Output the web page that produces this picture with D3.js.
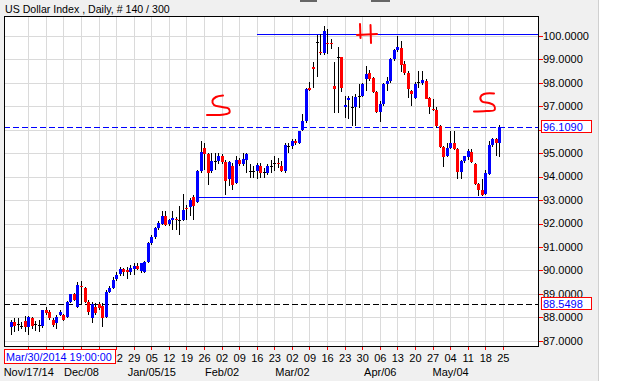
<!DOCTYPE html>
<html lang="en">
<head>
<meta charset="UTF-8">
<title>US Dollar Index</title>
<script src="https://cdn.jsdelivr.net/npm/d3@7"></script>
<style>
    body { margin: 0; background: #f0f0f0; }
    svg { display: block; font-family: "Liberation Sans", Arial, sans-serif; }
</style>
</head>
<body>
<svg id="main_svg" width="622" height="381"></svg>
<script>
    // daily bars, first bar Mon Nov/10/2014, weekdays only
    var startDate = "2014-11-10";
    var opens = [87.60, 87.81, 87.70, 87.64, 87.85, 87.60, 87.95, 87.70, 87.66, 87.62,
        88.31, 88.21, 87.88, 87.74, 88.09, 88.09, 88.00, 88.67, 88.98, 88.45,
        89.35, 89.24, 88.67, 87.98, 88.45, 88.55, 88.50, 88.02, 89.10, 89.26,
        89.64, 89.84, 90.06, 90.02, 89.92, 90.05, 90.20, 89.98, 89.95, 90.36,
        91.19, 91.42, 91.80, 91.99, 92.33, 91.98, 92.13, 92.20, 92.15, 92.16,
        92.70, 92.70, 93.13, 92.90, 94.23, 95.23, 94.95, 94.23, 94.66, 94.66,
        94.88, 94.62, 93.88, 94.45, 93.73, 94.73, 94.56, 94.73, 94.23, 94.23,
        94.23, 94.45, 94.19, 94.16, 94.45, 94.59, 94.59, 94.45, 94.23, 95.30,
        95.30, 95.52, 95.45, 95.97, 96.37, 97.80, 98.68, 99.73, 99.32, 99.28,
        99.72, 99.70, 97.85, 99.08, 99.09, 96.99, 97.26, 96.94, 96.97, 97.45,
        97.45, 98.16, 98.44, 98.20, 97.59, 96.77, 97.09, 97.94, 98.09, 99.02,
        99.40, 99.50, 98.80, 98.44, 97.66, 97.37, 98.00, 97.99, 98.09, 97.37,
        96.92, 96.85, 96.16, 95.28, 94.87, 95.23, 95.45, 95.19, 94.19, 94.66,
        94.85, 95.05, 94.56, 93.70, 93.45, 93.28, 94.13, 95.33, 95.62, 95.45];
    var highs = [87.88, 87.95, 87.98, 87.80, 88.06, 88.04, 88.00, 87.85, 87.88, 88.33,
        88.45, 88.30, 87.95, 88.10, 88.30, 88.15, 88.70, 89.00, 89.05, 89.52,
        89.55, 89.30, 88.72, 88.67, 88.60, 88.65, 88.60, 89.15, 89.35, 89.70,
        89.95, 90.15, 90.10, 90.15, 90.25, 90.30, 90.30, 90.32, 90.40, 91.20,
        91.50, 91.85, 92.09, 92.52, 92.52, 92.20, 92.52, 92.28, 92.73, 93.28,
        92.80, 93.09, 93.23, 94.30, 95.52, 95.45, 95.02, 95.02, 95.00, 95.00,
        94.95, 94.70, 94.65, 94.60, 94.88, 94.80, 95.02, 95.02, 94.52, 94.45,
        94.59, 94.59, 94.38, 94.52, 94.73, 94.87, 94.80, 94.66, 95.45, 95.45,
        95.59, 95.60, 95.95, 96.66, 97.80, 98.02, 98.90, 100.05, 100.10, 100.44,
        100.30, 99.87, 98.90, 99.51, 99.10, 97.44, 97.44, 97.44, 97.52, 97.94,
        98.00, 98.73, 98.55, 98.25, 97.66, 97.23, 97.98, 98.23, 99.05, 99.45,
        100.01, 99.80, 98.95, 98.50, 97.70, 98.02, 98.52, 98.50, 98.16, 97.40,
        97.30, 96.95, 96.20, 95.30, 95.45, 95.95, 95.95, 95.23, 94.73, 94.90,
        95.19, 95.19, 94.60, 93.73, 93.88, 94.30, 95.52, 95.66, 95.65, 96.20];
    var lows = [87.25, 87.38, 87.40, 87.50, 87.38, 87.24, 87.50, 87.42, 87.38, 87.55,
        88.09, 87.90, 87.60, 87.50, 88.05, 87.85, 87.95, 88.60, 88.70, 88.38,
        88.55, 88.60, 88.10, 87.74, 88.10, 88.30, 87.60, 87.98, 89.05, 89.20,
        89.55, 89.78, 89.75, 89.65, 89.80, 89.80, 90.00, 89.90, 89.90, 90.30,
        91.10, 91.35, 91.73, 91.95, 91.88, 91.90, 91.73, 91.73, 91.52, 92.09,
        92.16, 92.30, 92.16, 92.87, 94.16, 94.30, 93.66, 94.16, 94.30, 94.52,
        94.55, 93.23, 93.59, 93.45, 93.68, 94.45, 94.45, 94.16, 93.95, 93.95,
        93.88, 93.95, 93.95, 94.09, 94.16, 94.23, 94.38, 94.19, 94.16, 95.02,
        95.16, 95.35, 95.38, 95.95, 96.30, 97.66, 97.78, 98.25, 99.20, 99.20,
        99.23, 99.44, 96.70, 96.70, 97.60, 96.52, 96.45, 96.16, 96.16, 96.94,
        97.40, 97.66, 98.10, 97.55, 96.73, 96.34, 97.00, 97.66, 98.00, 98.95,
        99.30, 98.45, 98.35, 97.37, 97.02, 97.30, 97.80, 97.90, 97.30, 96.66,
        96.80, 96.09, 95.23, 94.42, 94.85, 95.20, 95.15, 93.90, 93.90, 94.60,
        94.73, 94.59, 93.66, 93.16, 93.16, 93.23, 94.09, 95.28, 94.87, 94.85];
    var closes = [87.80, 87.62, 87.72, 87.64, 87.57, 88.02, 87.64, 87.70, 87.68, 88.31,
        88.20, 87.95, 87.67, 88.02, 88.24, 87.88, 88.67, 88.98, 88.74, 89.38,
        89.32, 88.67, 88.24, 88.55, 88.20, 88.40, 87.99, 89.09, 89.26, 89.59,
        89.81, 90.06, 89.95, 89.92, 90.10, 90.20, 90.08, 90.31, 90.36, 91.16,
        91.42, 91.80, 92.02, 92.33, 91.95, 92.13, 92.25, 92.13, 92.17, 92.56,
        92.66, 93.02, 92.73, 94.23, 95.05, 94.95, 94.16, 94.66, 94.66, 94.87,
        94.62, 93.80, 94.62, 93.66, 94.73, 94.52, 94.76, 94.95, 94.23, 94.24,
        94.49, 94.16, 94.19, 94.45, 94.46, 94.60, 94.52, 94.23, 95.37, 95.30,
        95.52, 95.45, 95.95, 96.37, 97.73, 97.70, 98.60, 99.73, 99.30, 100.23,
        99.70, 99.68, 97.75, 99.10, 97.80, 97.05, 97.34, 96.95, 97.40, 97.45,
        97.97, 98.40, 98.16, 97.59, 96.77, 97.09, 97.94, 98.09, 99.02, 99.40,
        99.54, 98.75, 98.44, 97.73, 97.52, 97.94, 98.02, 98.13, 97.33, 96.95,
        96.90, 96.16, 95.28, 94.85, 95.23, 95.45, 95.19, 94.19, 94.66, 94.87,
        95.09, 94.62, 93.70, 93.42, 93.23, 94.16, 95.33, 95.62, 95.45, 96.109];

    var yTicks = d3.range(87, 101);
    var monthLabels = ["Nov/17/14", "Dec/08", "Jan/05/15", "Feb/02", "Mar/02", "Apr/06", "May/04"];
    var monthLabelDates = ["2014-11-17", "2014-12-08", "2015-01-05", "2015-02-02", "2015-03-02", "2015-04-06", "2015-05-04"];

    var lastPrice = 96.109;       // blue dashed line
    var crossPrice = 88.5498;     // black dashed crosshair
    var crossTime = "Mar/30/2014 19:00:00";
    var headLevel = 100.09, headFrom = 70;   // bar index where the line starts
    var neckLevel = 93.12, neckFrom = 53;

    var svg = d3.select("#main_svg");
    var plotL = 4, plotR = 538, plotT = 16, plotB = 346;
    var timeBoxW = 111;

    // dates for each bar slot (weekdays), including the empty space on the right
    var parse = d3.timeParse("%Y-%m-%d");
    var dates = [];
    var dt = parse(startDate);
    while (dates.length < opens.length + 12) {
        if (dt.getDay() != 0 && dt.getDay() != 6) dates.push(dt);
        dt = d3.timeDay.offset(dt, 1);
    }
    var fmtKey = d3.timeFormat("%Y-%m-%d");
    var indexOf = {};
    dates.forEach(function (dd, i) { indexOf[fmtKey(dd)] = i; });

    var x = d3.scaleLinear().domain([-1.9, opens.length + 10]).range([plotL, plotR]);
    var y = d3.scaleLinear().domain([86.775, 100.853]).range([plotB, plotT]);

    var mondays = dates.map(function (dd, i) { return { d: dd, i: i }; })
        .filter(function (o) { return o.d.getDay() == 1 && o.i > 0 && o.i <= opens.length; });

    // window pieces
    svg.append("rect").attr("width", 622).attr("height", 381).attr("fill", "#f0f0f0");
    svg.append("rect").attr("x", 599).attr("width", 23).attr("height", 381).attr("fill", "#ffffff");
    svg.append("line").attr("x1", 598.5).attr("x2", 598.5).attr("y1", 0).attr("y2", 381)
        .attr("stroke", "#d0d0d0");
    svg.append("rect").attr("x", 300).attr("y", 0).attr("width", 17).attr("height", 2).attr("fill", "#666");
    svg.append("rect").attr("x", 371).attr("y", 0).attr("width", 19).attr("height", 2).attr("fill", "#666");

    svg.append("text").attr("x", 5).attr("y", 13)
        .attr("font-size", "10.6px").attr("fill", "#000")
        .text("US Dollar Index , Daily, # 140 / 300");

    // plot area
    svg.append("rect").attr("x", plotL).attr("y", plotT)
        .attr("width", plotR - plotL).attr("height", plotB - plotT)
        .attr("fill", "#fff");

    var grid = svg.append("g").attr("shape-rendering", "crispEdges");
    grid.selectAll(".hg").data(yTicks).enter().append("line")
        .attr("x1", plotL).attr("x2", plotR)
        .attr("y1", function (v) { return Math.round(y(v)) + 0.5; })
        .attr("y2", function (v) { return Math.round(y(v)) + 0.5; })
        .attr("stroke", "#dadada");
    grid.selectAll(".vg").data(mondays).enter().append("line")
        .attr("x1", function (o) { return Math.round(x(o.i)) + 0.5; })
        .attr("x2", function (o) { return Math.round(x(o.i)) + 0.5; })
        .attr("y1", plotT).attr("y2", plotB)
        .attr("stroke", "#dadada");

    // horizontal levels
    var lv = svg.append("g").attr("shape-rendering", "crispEdges");
    lv.append("line").attr("x1", x(headFrom)).attr("x2", plotR)
        .attr("y1", Math.round(y(headLevel)) + 0.5).attr("y2", Math.round(y(headLevel)) + 0.5)
        .attr("stroke", "#0000ff");
    lv.append("line").attr("x1", x(neckFrom)).attr("x2", plotR)
        .attr("y1", Math.round(y(neckLevel)) + 0.5).attr("y2", Math.round(y(neckLevel)) + 0.5)
        .attr("stroke", "#0000ff");
    lv.append("line").attr("x1", plotL).attr("x2", plotR)
        .attr("y1", Math.round(y(lastPrice)) + 0.5).attr("y2", Math.round(y(lastPrice)) + 0.5)
        .attr("stroke", "#0000ff").attr("stroke-dasharray", "6,3");
    lv.append("line").attr("x1", plotL).attr("x2", plotR)
        .attr("y1", Math.round(y(crossPrice)) + 0.5).attr("y2", Math.round(y(crossPrice)) + 0.5)
        .attr("stroke", "#000").attr("stroke-dasharray", "6,3");

    // candles
    svg.append("g").attr("shape-rendering", "crispEdges")
        .selectAll("g").data(opens).enter().append("g")
        .each(function (o, i) {
            var g = d3.select(this);
            var cx = Math.round(x(i));
            g.append("line")
                .attr("x1", cx + 0.5).attr("x2", cx + 0.5)
                .attr("y1", y(highs[i])).attr("y2", y(lows[i]))
                .attr("stroke", "#000");
            var y1 = y(Math.max(opens[i], closes[i])), y2 = y(Math.min(opens[i], closes[i]));
            if (y2 - y1 < 1.2) {
                g.append("line")
                    .attr("x1", cx - 1).attr("x2", cx + 2)
                    .attr("y1", Math.round(y(closes[i])) + 0.5).attr("y2", Math.round(y(closes[i])) + 0.5)
                    .attr("stroke", closes[i] >= opens[i] ? "#000" : "#ff0000");
            } else {
                g.append("rect")
                    .attr("x", cx - 1).attr("width", 3)
                    .attr("y", y1).attr("height", y2 - y1)
                    .attr("fill", closes[i] >= opens[i] ? "#0000ff" : "#ff0000");
            }
        });

    // frame
    svg.append("rect").attr("x", plotL + 0.5).attr("y", plotT + 0.5)
        .attr("width", plotR - plotL).attr("height", plotB - plotT)
        .attr("fill", "none").attr("stroke", "#000");

    // right axis (labels under a value box are hidden)
    var fmt = d3.format(".4f");
    var boxed = [lastPrice, crossPrice];
    var ra = svg.append("g");
    ra.selectAll("line").data(yTicks).enter().append("line")
        .attr("x1", plotR + 1).attr("x2", plotR + 5)
        .attr("y1", function (v) { return Math.round(y(v)) + 0.5; })
        .attr("y2", function (v) { return Math.round(y(v)) + 0.5; })
        .attr("stroke", "#ff0000").attr("shape-rendering", "crispEdges");
    ra.selectAll("text")
        .data(yTicks.filter(function (v) {
            return boxed.every(function (b) { return Math.abs(y(v) - y(b)) > 10; });
        }))
        .enter().append("text")
        .attr("x", plotR + 5).attr("y", function (v) { return y(v); })
        .attr("dy", "0.35em").attr("font-size", "11px").attr("fill", "#000")
        .text(fmt);

    // value boxes on the right axis
    boxed.forEach(function (v) {
        var gy = Math.round(y(v));
        svg.append("rect").attr("x", plotR + 3.5).attr("y", gy - 6.5)
            .attr("width", 50).attr("height", 12)
            .attr("fill", "#fff").attr("stroke", "#ff0000");
        svg.append("text").attr("x", plotR + 5).attr("y", gy)
            .attr("dy", "0.38em").attr("font-size", "11px").attr("fill", "#0000ff")
            .text(fmt(v));
    });

    // bottom axis
    var ba = svg.append("g");
    ba.selectAll("line").data(mondays).enter().append("line")
        .attr("x1", function (o) { return Math.round(x(o.i)) + 0.5; })
        .attr("x2", function (o) { return Math.round(x(o.i)) + 0.5; })
        .attr("y1", plotB + 1).attr("y2", plotB + 4)
        .attr("stroke", "#ff0000").attr("shape-rendering", "crispEdges");

    // day numbers: the crosshair time box hides the first ones,
    // the one cut by its edge shows only its last digit
    var dayFmt = d3.timeFormat("%d");
    var boxEdge = plotL + timeBoxW + 1;
    ba.selectAll(".day")
        .data(mondays.filter(function (o) { return x(o.i) + 6 > boxEdge; }))
        .enter().append("text")
        .attr("x", function (o) { return x(o.i) < boxEdge ? x(o.i) + 6.5 : x(o.i) + 0.5; })
        .attr("y", 361.5)
        .attr("text-anchor", function (o) { return x(o.i) < boxEdge ? "end" : "middle"; })
        .attr("font-size", "11px").attr("fill", "#000")
        .text(function (o) { var s = dayFmt(o.d); return x(o.i) < boxEdge ? s.slice(1) : s; });
    ba.selectAll(".mon").data(monthLabels).enter().append("text")
        .attr("x", function (s, k) { return x(indexOf[monthLabelDates[k]]) + 0.5; }).attr("y", 376)
        .attr("text-anchor", "middle").attr("font-size", "11px").attr("fill", "#000")
        .text(function (s) { return s; });

    // crosshair time box
    svg.append("rect").attr("x", plotL + 0.5).attr("y", 349.5)
        .attr("width", timeBoxW).attr("height", 14)
        .attr("fill", "#fff").attr("stroke", "#ff0000");
    svg.append("text").attr("x", plotL + 2).attr("y", 360.5)
        .attr("font-size", "10.8px").attr("fill", "#0000ff")
        .text(crossTime);

    // hand drawn S H S marks
    var marks = [
        [[223, 95.5], [216, 97], [212.5, 100.5], [214, 105], [222, 107], [228.5, 108.5], [229.5, 112.5], [224, 114.5], [207, 115]],
        [[360, 24], [360.5, 38]],
        [[370.5, 25], [371, 43]],
        [[357, 35], [377, 34]],
        [[494, 93.5], [484, 94], [480.5, 97], [482, 101.5], [489, 103], [494, 105.5], [494.5, 110], [486, 111], [474, 111.5]]
    ];
    svg.append("g").selectAll("path").data(marks).enter().append("path")
        .attr("d", d3.line().curve(d3.curveCatmullRom))
        .attr("fill", "none").attr("stroke", "#ff0000")
        .attr("stroke-width", 2).attr("stroke-linecap", "round");
</script>
</body>
</html>
